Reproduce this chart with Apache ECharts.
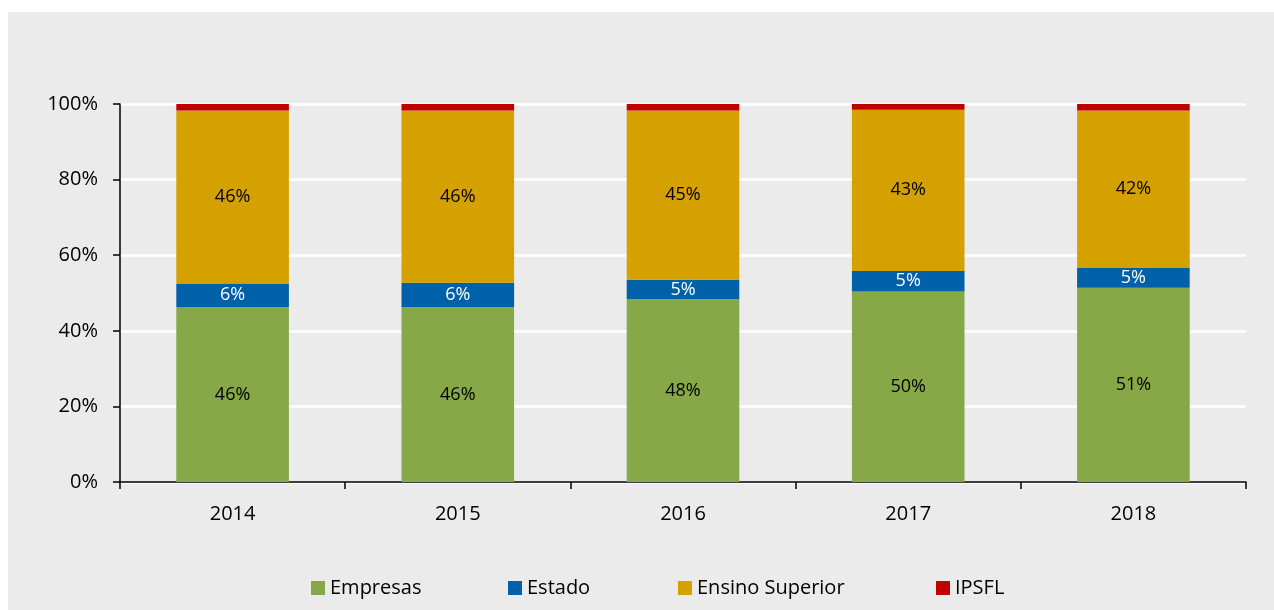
<!DOCTYPE html>
<html>
<head>
<meta charset="utf-8">
<script src="https://cdn.jsdelivr.net/npm/echarts@6/dist/echarts.min.js"></script>
<style>
  html, body { margin: 0; padding: 0; background: #fff; }
  #chart { position: absolute; left: 8px; top: 12px; width: 1266px; height: 598px; background: #ebebeb; }
</style>
</head>
<body>
<div id="chart"></div>
<script>
var years = ['2014', '2015', '2016', '2017', '2018'];
var seriesNames = ['Empresas', 'Estado', 'Ensino Superior', 'IPSFL'];
var empresas = [46.3, 46.3, 48.4, 50.4, 51.4];
var estado = [6.2, 6.4, 5.1, 5.4, 5.2];
var ensino = [45.8, 45.6, 44.8, 42.7, 41.7];
var ipsfl = [1.7, 1.7, 1.7, 1.5, 1.7];
var yTicks = [0, 20, 40, 60, 80, 100];

var font = '"Open Sans", sans-serif';

function pct(p) { return Math.round(p.value) + '%'; }

function barSeries(name, data, color, labelColor) {
    return {
        name: name,
        type: 'bar',
        stack: 'total',
        barWidth: '50%',
        data: data,
        itemStyle: { color: color },
        label: {
            show: labelColor != null,
            position: 'inside',
            color: labelColor,
            fontFamily: font,
            fontSize: 18,
            formatter: pct
        }
    };
}

// one legend per entry, spaced like the original
var legendLeft = [303, 500, 670, 928];
var legends = seriesNames.map(function (n, i) {
    return {
        left: legendLeft[i],
        top: 566,
        padding: 0,
        itemWidth: 14,
        itemHeight: 14,
        itemGap: 0,
        icon: 'rect',
        textStyle: { color: '#000', fontSize: 20, fontFamily: font },
        data: [n]
    };
});

var option = {
    animation: false,
    textStyle: { fontFamily: font },
    grid: { left: 112, right: 28, top: 92, bottom: 128 },
    legend: legends,
    xAxis: {
        type: 'category',
        data: years,
        boundaryGap: true,
        axisLine: { lineStyle: { color: '#000', width: 1.5 } },
        axisTick: { show: true, length: 7, lineStyle: { color: '#000', width: 1.5 } },
        axisLabel: { color: '#000', fontSize: 20, margin: 22, fontFamily: font }
    },
    yAxis: {
        type: 'value',
        min: 0,
        max: 100,
        interval: 20,
        axisLine: { show: true, lineStyle: { color: '#000', width: 1.5 } },
        axisTick: { show: true, length: 7, lineStyle: { color: '#000', width: 1.5 } },
        splitLine: { lineStyle: { color: '#fff', width: 2.5 } },
        axisLabel: {
            color: '#000',
            fontSize: 20,
            margin: 22,
            fontFamily: font,
            formatter: function (v) { return yTicks.indexOf(v) >= 0 ? v + '%' : ''; }
        }
    },
    series: [
        barSeries('Empresas', empresas, '#86a846', '#000'),
        barSeries('Estado', estado, '#0060a8', '#fff'),
        barSeries('Ensino Superior', ensino, '#d4a100', '#000'),
        barSeries('IPSFL', ipsfl, '#c00000', null)
    ]
};

var myChart = echarts.init(document.getElementById('chart'));
myChart.setOption(option);
window.addEventListener('resize', function () {
    myChart.resize();
});
</script>
</body>
</html>
